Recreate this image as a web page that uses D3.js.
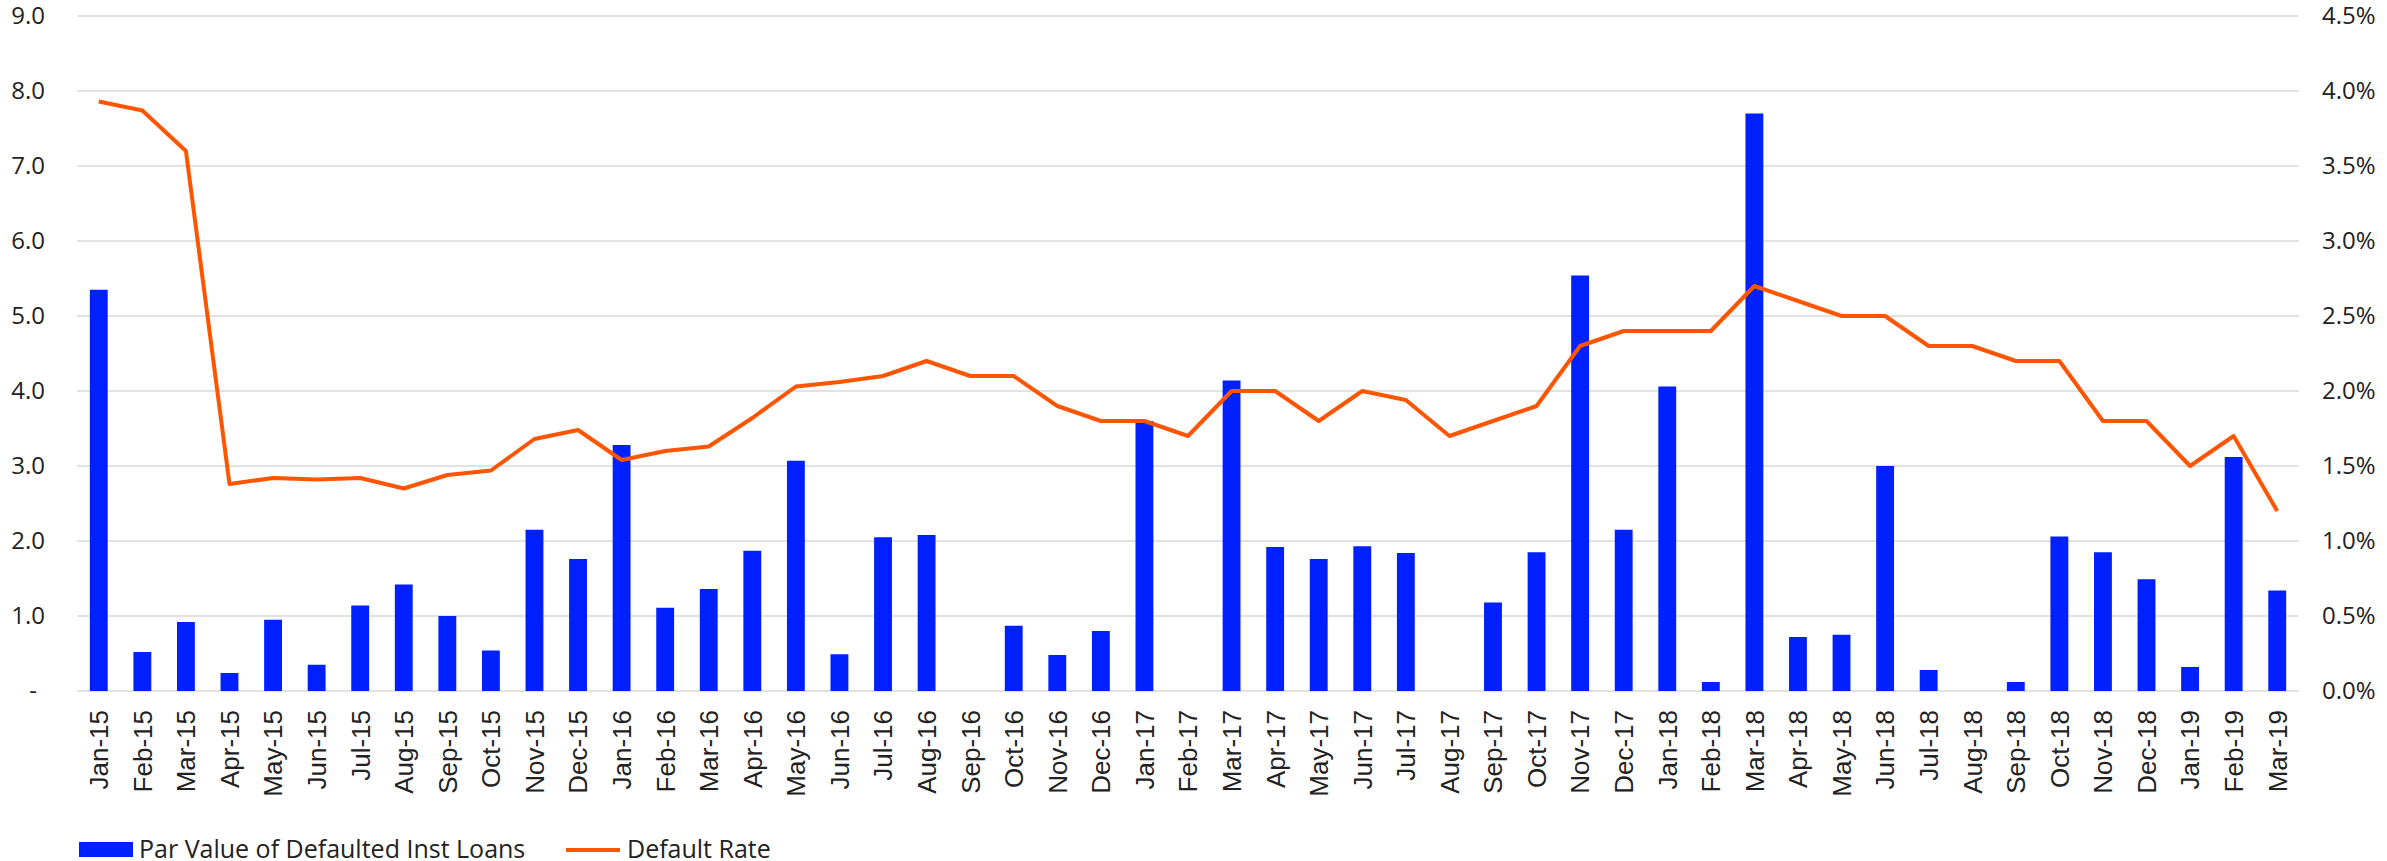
<!DOCTYPE html>
<html>
<head>
<meta charset="utf-8">
<script src="https://cdn.jsdelivr.net/npm/d3@7"></script>
<style>
  body { margin: 0; background: #fff; }
  svg text { font-family: "Open Sans", Lato, sans-serif; fill: #222; }
</style>
</head>
<body>
<script>
var months = ["Jan-15","Feb-15","Mar-15","Apr-15","May-15","Jun-15","Jul-15","Aug-15","Sep-15","Oct-15","Nov-15","Dec-15",
  "Jan-16","Feb-16","Mar-16","Apr-16","May-16","Jun-16","Jul-16","Aug-16","Sep-16","Oct-16","Nov-16","Dec-16",
  "Jan-17","Feb-17","Mar-17","Apr-17","May-17","Jun-17","Jul-17","Aug-17","Sep-17","Oct-17","Nov-17","Dec-17",
  "Jan-18","Feb-18","Mar-18","Apr-18","May-18","Jun-18","Jul-18","Aug-18","Sep-18","Oct-18","Nov-18","Dec-18",
  "Jan-19","Feb-19","Mar-19"];

// par value of defaulted loans (left axis)
var parValue = [5.35,0.52,0.92,0.24,0.95,0.35,1.14,1.42,1.0,0.54,2.15,1.76,
  3.28,1.11,1.36,1.87,3.07,0.49,2.05,2.08,0,0.87,0.48,0.80,
  3.6,0,4.14,1.92,1.76,1.93,1.84,0,1.18,1.85,5.54,2.15,
  4.06,0.12,7.7,0.72,0.75,3.0,0.28,0,0.12,2.06,1.85,1.49,
  0.32,3.12,1.34];

// default rate, % (right axis)
var defaultRate = [3.93,3.87,3.6,1.38,1.42,1.41,1.42,1.35,1.44,1.47,1.68,1.74,
  1.54,1.60,1.63,1.82,2.03,2.06,2.1,2.2,2.1,2.1,1.9,1.8,
  1.8,1.7,2.0,2.0,1.8,2.0,1.94,1.7,1.8,1.9,2.3,2.4,
  2.4,2.4,2.7,2.6,2.5,2.5,2.3,2.3,2.2,2.2,1.8,1.8,
  1.5,1.7,1.2];

var leftTicks = [0,1,2,3,4,5,6,7,8,9];
var rightTicks = [0,0.5,1,1.5,2,2.5,3,3.5,4,4.5];
var seriesNames = ["Par Value of Defaulted Inst Loans", "Default Rate"];

var width = 2387, height = 861;
var plotLeft = 77, plotRight = 2299, plotTop = 16, plotBottom = 691;
var blue = "#0020ff", orange = "#ff5500";

var svg = d3.select("body").append("svg")
    .attr("width", width)
    .attr("height", height);

var x = d3.scaleBand().domain(months).range([plotLeft, plotRight])
    .paddingInner(0.59).paddingOuter(0.295);
var y = d3.scaleLinear().domain([0, 9]).range([plotBottom, plotTop]);
var y2 = d3.scaleLinear().domain([0, 4.5]).range([plotBottom, plotTop]);

// gridlines
svg.append("g").selectAll("line")
    .data(leftTicks)
  .enter().append("line")
    .attr("x1", plotLeft).attr("x2", plotRight)
    .attr("y1", d => y(d)).attr("y2", d => y(d))
    .attr("stroke", "#d9d9d9")
    .attr("stroke-width", 1.5);

// left axis
var yAxis = svg.append("g")
    .attr("transform", "translate(45,0)")
    .call(d3.axisLeft(y).tickValues(leftTicks).tickSize(0).tickPadding(0)
      .tickFormat(d => d === 0 ? "-" : d3.format(".1f")(d)));
yAxis.select(".domain").remove();
yAxis.selectAll("text")
    .attr("font-size", 24)
    .attr("fill", "#222")
    .attr("dx", d => d === 0 ? -8 : 0);

// right axis
var y2Axis = svg.append("g")
    .attr("transform", "translate(2322,0)")
    .call(d3.axisRight(y2).tickValues(rightTicks).tickSize(0).tickPadding(0)
      .tickFormat(d => d3.format(".1f")(d) + "%"));
y2Axis.select(".domain").remove();
y2Axis.selectAll("text").attr("font-size", 24).attr("fill", "#222");

// bars
svg.append("g").selectAll("rect")
    .data(parValue)
  .enter().append("rect")
    .attr("x", (d, i) => x(months[i]))
    .attr("y", d => y(d))
    .attr("width", x.bandwidth())
    .attr("height", d => y(0) - y(d))
    .attr("fill", blue);

// line
var line = d3.line()
    .x((d, i) => x(months[i]) + x.bandwidth() / 2)
    .y(d => y2(d));
svg.append("path")
    .datum(defaultRate)
    .attr("d", line)
    .attr("fill", "none")
    .attr("stroke", orange)
    .attr("stroke-width", 4)
    .attr("stroke-linejoin", "round");

// x axis labels (Arial-like in the original)
var xAxis = svg.append("g")
    .attr("transform", "translate(0,710)")
    .call(d3.axisBottom(x).tickSize(0).tickPadding(0));
xAxis.select(".domain").remove();
xAxis.selectAll("text")
    .style("font-family", "'Liberation Sans', Arial, sans-serif")
    .attr("font-size", 26)
    .attr("fill", "#111")
    .attr("transform", "rotate(-90)")
    .attr("text-anchor", "end")
    .attr("x", 0)
    .attr("y", 0)
    .attr("dy", "0.36em");

// legend
var legend = svg.append("g");
legend.append("rect")
    .attr("x", 79).attr("y", 842)
    .attr("width", 54).attr("height", 15)
    .attr("fill", blue);
legend.append("text")
    .attr("x", 139).attr("y", 858)
    .attr("font-size", 25)
    .text(seriesNames[0]);
legend.append("line")
    .attr("x1", 566).attr("x2", 620)
    .attr("y1", 850).attr("y2", 850)
    .attr("stroke", orange)
    .attr("stroke-width", 4);
legend.append("text")
    .attr("x", 627).attr("y", 858)
    .attr("font-size", 25)
    .text(seriesNames[1]);
</script>
</body>
</html>
